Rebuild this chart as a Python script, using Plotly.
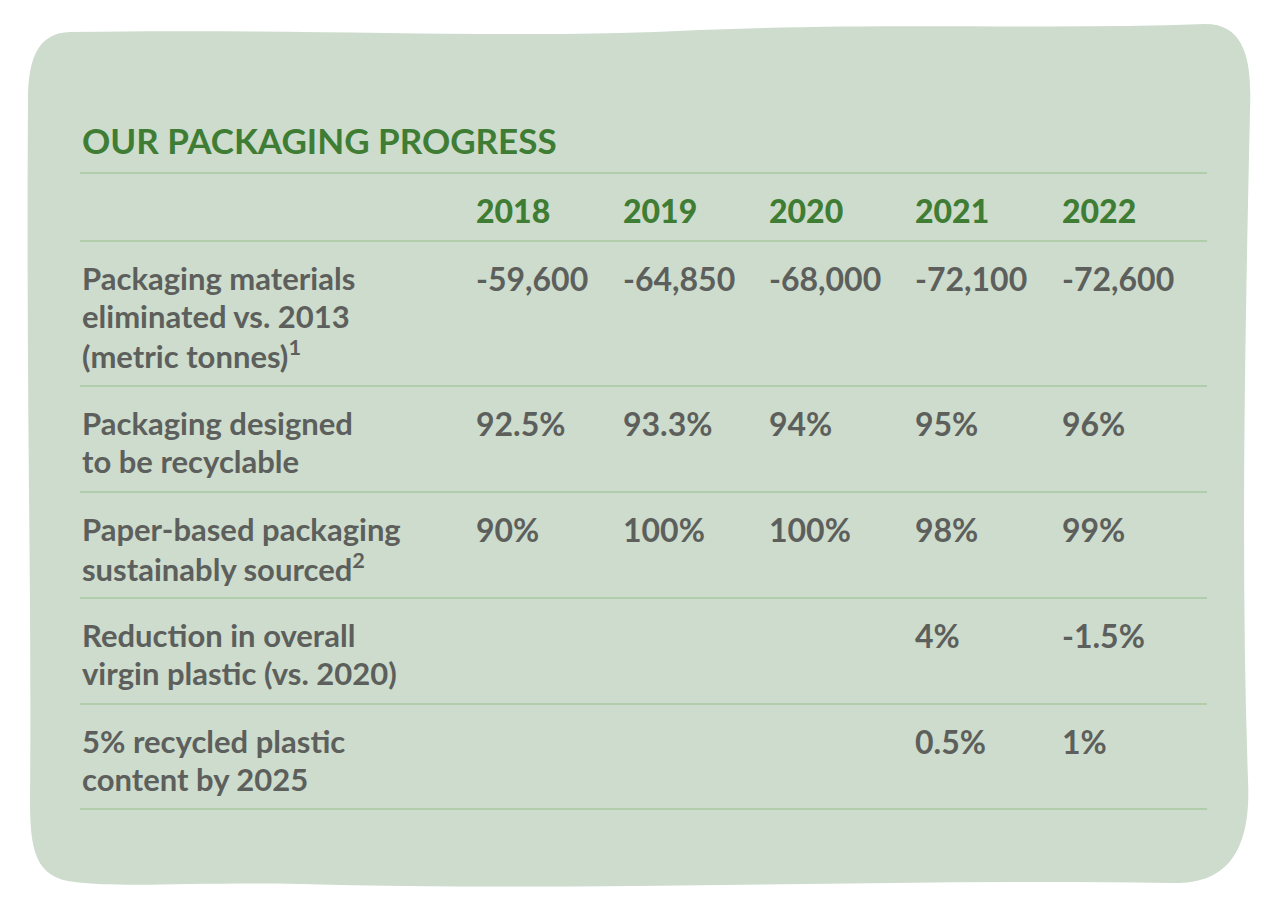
import plotly.graph_objects as go

title = "OUR PACKAGING PROGRESS"
years = ["2018", "2019", "2020", "2021", "2022"]
row_labels = [
    ["Packaging materials", "eliminated vs. 2013", "(metric tonnes)<sup>1</sup>"],
    ["Packaging designed", "to be recyclable"],
    ["Paper-based packaging", "sustainably sourced<sup>2</sup>"],
    ["Reduction in overall", "virgin plastic (vs. 2020)"],
    ["5% recycled plastic", "content by 2025"],
]
values = [
    ["-59,600", "-64,850", "-68,000", "-72,100", "-72,600"],
    ["92.5%", "93.3%", "94%", "95%", "96%"],
    ["90%", "100%", "100%", "98%", "99%"],
    ["", "", "", "4%", "-1.5%"],
    ["", "", "", "0.5%", "1%"],
]

GREEN = "#3f7c34"
GREY = "#5d5f5c"
LINE = "#a9c9a2"
BG = "#cddccc"
FONT = "Lato"

# page offset correction (body margin)
OX, OY = -8, -8
col_x = [474, 621, 767, 913, 1060]
row_top = [241, 386, 492, 598, 704]
row_bottom = 809
left, right = 80, 1207
LH = 38

fig = go.Figure()

blob = ("M 62 24 C 300 20, 500 32, 692 22 C 892 14, 1042 22, 1197 16 "
        "C 1237 16, 1244 52, 1242 102 C 1238 292, 1232 542, 1240 772 "
        "C 1244 852, 1212 877, 1162 875 C 892 870, 592 884, 292 876 "
        "C 192 874, 112 880, 67 874 C 27 870, 22 842, 22 792 "
        "C 24 592, 18 392, 20 92 C 20 47, 32 25, 62 24 Z")
shapes = [dict(type="path", path=blob, fillcolor=BG, line=dict(width=0), layer="below")]

for y in [173] + row_top + [row_bottom]:
    shapes.append(dict(type="line", x0=left + OX, x1=right + OX, y0=y + OY, y1=y + OY,
                       line=dict(color=LINE, width=1.5)))

ann = [dict(x=left + OX, y=140 + OY, text="<b>" + title + "</b>", xanchor="left", yanchor="middle",
            showarrow=False, font=dict(family=FONT, size=35, color=GREEN, weight=900))]
for x, yr in zip(col_x, years):
    ann.append(dict(x=x + OX, y=210 + OY, text=yr, xanchor="left", yanchor="middle",
                    showarrow=False, font=dict(family=FONT, size=32, color=GREEN, weight=900)))
for top, lines, vals in zip(row_top, row_labels, values):
    for i, line in enumerate(lines):
        ann.append(dict(x=left + OX, y=top + 37 + i * LH + OY, text=line, xanchor="left",
                        yanchor="middle", showarrow=False,
                        font=dict(family=FONT, size=31, color=GREY, weight=700)))
    for x, v in zip(col_x, vals):
        if v:
            ann.append(dict(x=x + OX, y=top + 37 + OY, text=v, xanchor="left", yanchor="middle",
                            showarrow=False, font=dict(family=FONT, size=32, color=GREY, weight=700)))

fig.update_layout(
    width=1280, height=912, margin=dict(l=0, r=0, t=0, b=0),
    paper_bgcolor="white", plot_bgcolor="white",
    xaxis=dict(range=[0, 1280], visible=False, fixedrange=True),
    yaxis=dict(range=[912, 0], visible=False, fixedrange=True),
    shapes=shapes, annotations=ann, showlegend=False,
)
fig.write_html("out.html")
